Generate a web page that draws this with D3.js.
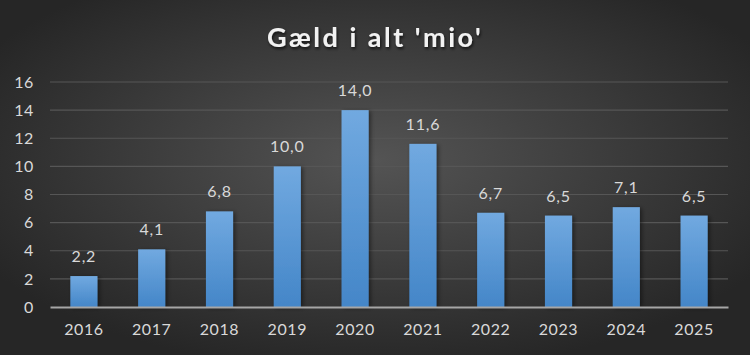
<!DOCTYPE html>
<html>
<meta charset="utf-8">
<script src="https://d3js.org/d3.v7.min.js"></script>
<style>
  body { margin: 0; background: #2a2a2a; }
  text { font-family: Lato, "Open Sans", sans-serif; }
</style>
<body>
<div id="vis"></div>
<script>
  var years = ["2016", "2017", "2018", "2019", "2020", "2021", "2022", "2023", "2024", "2025"];
  var debt = [2.2, 4.1, 6.8, 10.0, 14.0, 11.6, 6.7, 6.5, 7.1, 6.5];
  var yTicks = [0, 2, 4, 6, 8, 10, 12, 14, 16];
  var title = "Gæld i alt 'mio'";

  var total_width = 750, total_height = 355;
  var margin = {top: 82, right: 22, bottom: 48, left: 50},
      width = total_width - margin.left - margin.right,
      height = total_height - margin.top - margin.bottom;

  var root = d3.select("#vis").append("svg")
      .attr("width", total_width)
      .attr("height", total_height);

  var defs = root.append("defs");
  var bg = defs.append("radialGradient").attr("id", "bg")
      .attr("cx", "50%").attr("cy", "45%").attr("r", "60%");
  bg.append("stop").attr("offset", "0%").attr("stop-color", "#545454");
  bg.append("stop").attr("offset", "100%").attr("stop-color", "#262626");

  var barGrad = defs.append("linearGradient").attr("id", "bar")
      .attr("x1", 0).attr("y1", 0).attr("x2", 0).attr("y2", 1);
  barGrad.append("stop").attr("offset", "0%").attr("stop-color", "#71a9e0");
  barGrad.append("stop").attr("offset", "100%").attr("stop-color", "#4486c8");

  var shadow = defs.append("filter").attr("id", "shadow")
      .attr("x", "-30%").attr("y", "-10%").attr("width", "160%").attr("height", "130%");
  shadow.append("feDropShadow").attr("dx", 2).attr("dy", 1).attr("stdDeviation", 2)
      .attr("flood-color", "#000").attr("flood-opacity", 0.45);

  var tshadow = defs.append("filter").attr("id", "tshadow");
  tshadow.append("feDropShadow").attr("dx", 1).attr("dy", 2).attr("stdDeviation", 1.5)
      .attr("flood-color", "#000").attr("flood-opacity", 0.7);

  root.append("rect").attr("width", total_width).attr("height", total_height)
      .attr("fill", "url(#bg)");

  root.append("text")
      .attr("x", 375).attr("y", 47)
      .attr("text-anchor", "middle")
      .attr("fill", "#f2f2f2")
      .style("font-size", "27px")
      .style("font-weight", "bold")
      .style("letter-spacing", "2.5px")
      .attr("filter", "url(#tshadow)")
      .text(title);

  var svg = root.append("g")
      .attr("transform", "translate(" + margin.left + "," + margin.top + ")");

  var x = d3.scaleBand().domain(years).range([0, width])
      .paddingInner(0.6).paddingOuter(0.3);
  var y = d3.scaleLinear().domain([0, 16]).range([height, 0]);

  // gridlines
  svg.append("g").selectAll("line")
    .data(yTicks.slice(1))
    .enter().append("line")
      .attr("x1", 0).attr("x2", width)
      .attr("y1", function(d) { return y(d); })
      .attr("y2", function(d) { return y(d); })
      .attr("stroke", "#565656")
      .attr("stroke-width", 1.2);

  // y axis labels
  var yAxis = svg.append("g")
    .call(d3.axisLeft(y).tickValues(yTicks).tickSize(0).tickPadding(16));
  yAxis.select(".domain").remove();
  yAxis.selectAll("text").attr("fill", "#d9d9d9")
    .style("font-size", "16px").style("letter-spacing", "0.6px");

  // bars
  svg.append("g").selectAll("rect")
    .data(debt)
    .enter().append("rect")
      .attr("x", function(d, i) { return x(years[i]); })
      .attr("y", function(d) { return y(d); })
      .attr("width", x.bandwidth())
      .attr("height", function(d) { return height - y(d); })
      .attr("fill", "url(#bar)")
      .attr("filter", "url(#shadow)");

  // data labels
  svg.append("g").selectAll("text")
    .data(debt)
    .enter().append("text")
      .attr("x", function(d, i) { return x(years[i]) + x.bandwidth() / 2; })
      .attr("y", function(d) { return y(d) - 14; })
      .attr("text-anchor", "middle")
      .attr("fill", "#d9d9d9")
      .style("font-size", "16px")
      .style("letter-spacing", "0.8px")
      .text(function(d) { return d3.format(".1f")(d).replace(".", ","); });

  // x axis
  var xAxis = svg.append("g")
    .attr("transform", "translate(0," + height + ")")
    .call(d3.axisBottom(x).tickSize(0).tickPadding(17));
  xAxis.select(".domain").attr("stroke", "#a6a6a6").attr("stroke-width", 2);
  xAxis.selectAll("text").attr("fill", "#d9d9d9")
    .style("font-size", "16px").style("letter-spacing", "0.6px");
</script>
</body>
</html>
